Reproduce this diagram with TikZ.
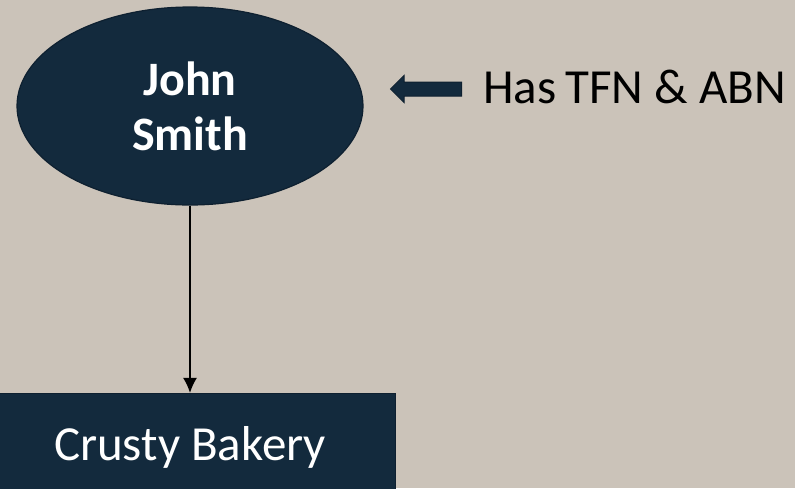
\documentclass[tikz,border=0pt]{standalone}
\usepackage{fontspec}
\setmainfont{Carlito}
\usetikzlibrary{shapes.geometric,shapes.arrows,arrows.meta}
\definecolor{paper}{HTML}{CBC3B9}
\definecolor{navy}{HTML}{132A3D}
\definecolor{navyline}{HTML}{0E2030}
\begin{document}
\begin{tikzpicture}[
        x=1pt, y=-1pt,
        person/.style={ellipse, draw=navyline, line width=1.2pt, fill=navy, text=white,
            minimum width=346pt, minimum height=198pt, align=center,
            font=\fontsize{48}{56}\selectfont\bfseries},
        entity/.style={rectangle, draw=navyline, fill=navy, text=white,
            minimum width=410pt, minimum height=108pt, inner sep=0pt,
            font=\fontsize{49}{56}\selectfont},
        pointer/.style={single arrow, draw=navyline, line width=1pt, fill=navy,
            shape border rotate=180, minimum height=71pt, inner sep=6.5pt,
            single arrow head extend=6.5pt},
        note/.style={font=\fontsize{49}{56}\selectfont, inner sep=0pt},
        arrow/.style={-{Latex[length=15pt,width=14pt]}, line width=1.2pt}
    ]
        \useasboundingbox[fill=paper] (0,0) rectangle (795,488);

        % Person and entity
        \node[person] (john) at (190,106) {John\\[-1pt]Smith};
        \node[entity] (bakery) at (190,447) {Crusty Bakery};
        \draw[arrow] (john.south) -- (bakery.north);

        % Side note
        \node[pointer] (ptr) at (429.5,89) {};
        \node[note, anchor=base west] (tfn) at (483,103) {Has\kern-2pt\ TFN \& ABN};
    \end{tikzpicture}
\end{document}
